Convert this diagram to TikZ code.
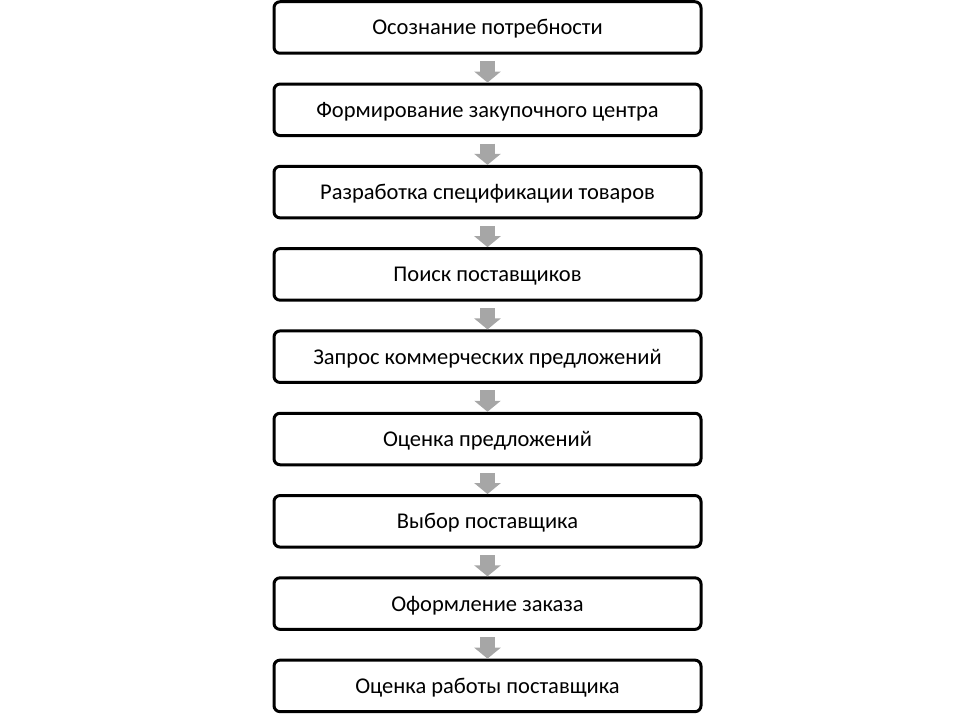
\documentclass[tikz,border=0pt]{standalone}
\usepackage{fontspec}
\setmainfont{Carlito}
\usetikzlibrary{positioning,arrows.meta}
\definecolor{arrgray}{RGB}{166,166,166}

\begin{document}
\begin{tikzpicture}[x=1pt, y=-1pt,
  stage/.style={draw, line width=3pt, rounded corners=6pt, minimum width=427pt, minimum height=51.5pt, inner sep=0pt, text height=16pt, text depth=1pt, font=\fontsize{22.5}{26}\selectfont},
  flow/.style={arrgray, line width=15pt, shorten <=6.5pt, -{Triangle[length=11pt, width=26pt]}}]
\useasboundingbox (0,0) rectangle (977,717);
\def\x{487.5}
\def\y{27.5}

\node[stage] (need) at (\x + 0, \y + 0) {Осознание потребности};
\node[stage] (center) at (\x + 0, \y + 82.3) {Формирование закупочного центра};
\node[stage] (spec) at (\x + 0, \y + 164.6) {Разработка спецификации товаров};
\node[stage] (search) at (\x + 0, \y + 246.9) {Поиск поставщиков};
\node[stage] (request) at (\x + 0, \y + 329.2) {Запрос коммерческих предложений};
\node[stage] (rate) at (\x + 0, \y + 411.5) {Оценка предложений};
\node[stage] (choice) at (\x + 0, \y + 493.8) {Выбор поставщика};
\node[stage] (order) at (\x + 0, \y + 576.1) {Оформление заказа};
\node[stage] (review) at (\x + 0, \y + 658.4) {Оценка работы поставщика};

\draw[flow] (need) -- (center);
\draw[flow] (center) -- (spec);
\draw[flow] (spec) -- (search);
\draw[flow] (search) -- (request);
\draw[flow] (request) -- (rate);
\draw[flow] (rate) -- (choice);
\draw[flow] (choice) -- (order);
\draw[flow] (order) -- (review);

\end{tikzpicture}
\end{document}
